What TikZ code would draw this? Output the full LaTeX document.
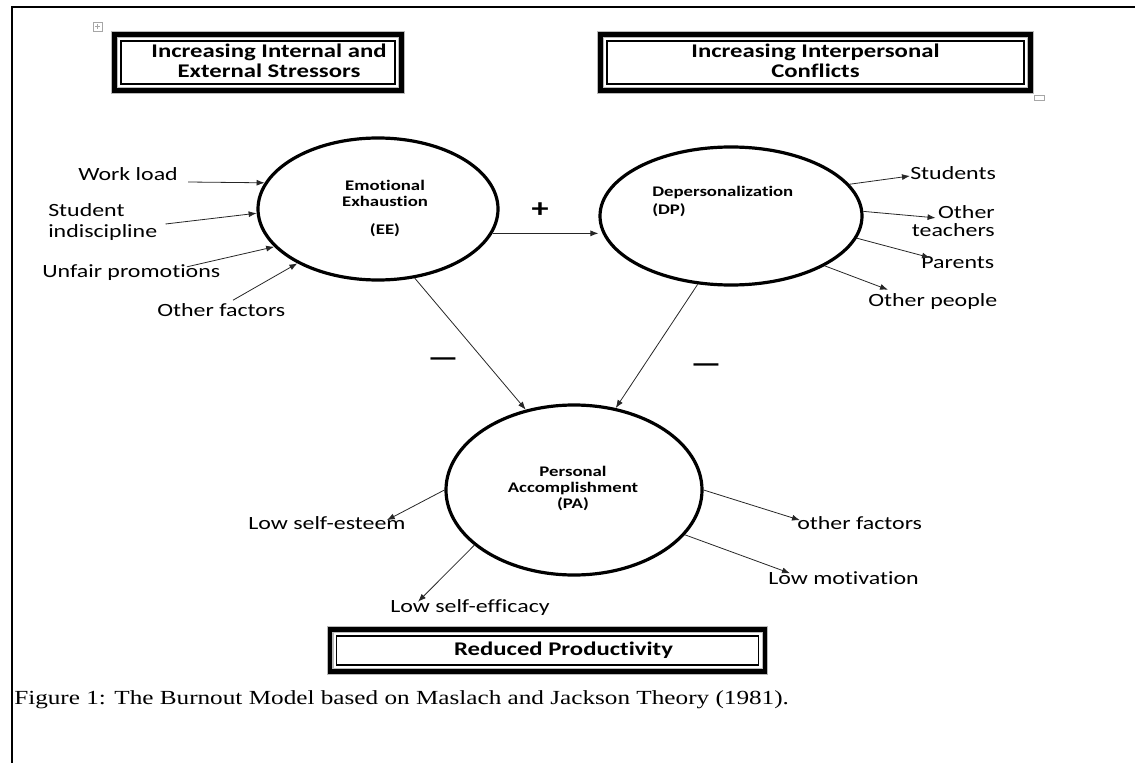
\documentclass[tikz,border=0pt]{standalone}
\usepackage{fontspec}
\setmainfont{Carlito}[FakeStretch=1.28,Ligatures=NoCommon]
\newfontfamily\capfont{Liberation Serif}[FakeStretch=1.26]
\usetikzlibrary{shapes.geometric,arrows.meta,calc}

\begin{document}
\begin{tikzpicture}[x=0.75pt,y=-0.75pt,
  circ/.style={ellipse,draw,line width=2.4pt,inner sep=0pt},
  headbox/.style={draw,line width=3.2pt,outer sep=0pt,inner sep=0pt,
    preaction={draw=gray!55,line width=5pt}},
  headtxt/.style={align=center,inner sep=0pt,font=\fontsize{14.5}{15}\selectfont\bfseries},
  ctxt/.style={inner sep=0pt,font=\fontsize{11}{12}\selectfont\bfseries},
  lbl/.style={inner sep=0pt,font=\fontsize{14}{16}\selectfont},
  arr/.style={-{Latex[length=6pt,width=4.5pt]},line width=0.6pt,black!85},
  sign/.style={inner sep=0pt,font=\fontsize{20}{20}\selectfont\bfseries}]
  \useasboundingbox (0,0) rectangle (1135,763);
  % page frame
  \draw[line width=1.8pt] (11,7) -- (1135,7);
  \draw[line width=2.2pt] (12,7) -- (12,763);
  % editor handles
  \draw[gray!70,line width=0.5pt] (93,22) rectangle (102,31);
  \draw[gray!70,line width=0.4pt] (95,26.5) -- (100,26.5) (97.5,24) -- (97.5,29);
  \draw[gray!70,line width=0.5pt] (1034,95) rectangle (1044,100);

  % heading boxes
  \node[headbox,minimum width=215.25pt,minimum height=42pt] (stress) at (258,62.5) {};
  \node[headtxt] (stresstxt) at (269,61) {Increasing Internal and\\External Stressors};
  \node[headbox,minimum width=322.5pt,minimum height=42pt] (conflict) at (815.5,62.5) {};
  \node[headtxt] (conflicttxt) at (815.5,61) {Increasing Interpersonal\\Conflicts};
  \node[headbox,minimum width=326pt,minimum height=31.5pt] (prod) at (547.5,650.5) {};
  \node[headtxt] (prodtxt) at (563.5,650) {Reduced Productivity};
  \foreach \b in {stress,conflict,prod}
    \draw[line width=0.9pt] ($(\b.north west)+(6.5,6.5)$) rectangle ($(\b.south east)+(-6.5,-6.5)$);

  % the three dimensions
  \node[circ,minimum width=180pt,minimum height=106.5pt] (EE) at (378,209) {};
  \node[circ,minimum width=196.5pt,minimum height=103.5pt] (DP) at (731,216) {};
  \node[circ,minimum width=192pt,minimum height=127.5pt] (PA) at (574,490) {};
  \node[ctxt,align=center] (EEtxt) at (385,208) {Emotional\\Exhaustion\\[9pt](EE)};
  \node[ctxt,align=left,anchor=north west] (DPtxt) at (652,186) {Depersonalization\\[1.5pt](DP)};
  \node[ctxt,align=center] (PAtxt) at (573,488) {Personal\\Accomplishment\\(PA)};

  % causes and outcomes
  \node[lbl,anchor=west] (wl) at (78,174) {Work load};
  \node[lbl,anchor=west,align=left] (sti) at (48,222) {Student\\indiscipline};
  \node[lbl,anchor=west] (ufp) at (42,273) {Unfair promotions};
  \node[lbl,anchor=west] (oft) at (157,310) {Other factors};
  \node[lbl,anchor=west] (stu) at (910,173) {Students};
  \node[lbl,anchor=east,align=right] (otc) at (995,221) {Other\\[-2pt]teachers};
  \node[lbl,anchor=west] (par) at (921,263) {Parents};
  \node[lbl,anchor=west] (opl) at (868,302) {Other people};
  \node[lbl,anchor=west] (lse) at (248,523) {Low self-esteem};
  \node[lbl,anchor=west] (pof) at (797,523) {other factors};
  \node[lbl,anchor=west] (lmo) at (768,578) {Low motivation};
  \node[lbl,anchor=west] (lsf) at (390,608) {Low self-efficacy};

  \node[sign] (plus) at (540,210) {+};
  \node[sign] (minusl) at (443,362) {—};
  \node[sign] (minusr) at (706,368) {—};

  \node[anchor=west,inner sep=0pt,font=\capfont\fontsize{15}{16}\selectfont] (cap) at (14,700)
    {Figure 1: The Burnout Model based on Maslach and Jackson Theory (1981).};

  % arrows into EE
  \draw[arr] ($(wl.east)+(10,8)$) -- (EE.167);
  \draw[arr] ($(sti.east)+(8,2)$) -- (EE.182);
  \draw[arr] ($(ufp.north west)+(145,2)$) -- (EE.200);
  \draw[arr] ($(oft.north west)+(76,-3)$) -- (EE.214);
  % between the dimensions
  \draw[arr] (EE.-12) -- (EE.-12 -| DP.west);
  \draw[arr] (EE.-62) -- (PA.121);
  \draw[arr] (DP.244) -- (PA.63);
  % out of DP
  \draw[arr] (DP.15) -- ($(stu.west)+(0,3)$);
  \draw[arr] (DP.2) -- ($(otc.north west)+(24,13)$);
  \draw[arr] (DP.-10) -- ($(par.north west)+(9,1)$);
  \draw[arr] (DP.-28) -- ($(opl.north west)+(20,-4)$);
  % out of PA
  \draw[arr] (PA.180) -- ($(lse.north east)+(-19,4)$);
  \draw[arr] (PA.0) -- ($(pof.north west)+(3,4)$);
  \draw[arr] (PA.-22) -- ($(lmo.north west)+(22,2)$);
  \draw[arr] (PA.209) -- ($(lsf.north west)+(28,2)$);
\end{tikzpicture}
\end{document}
